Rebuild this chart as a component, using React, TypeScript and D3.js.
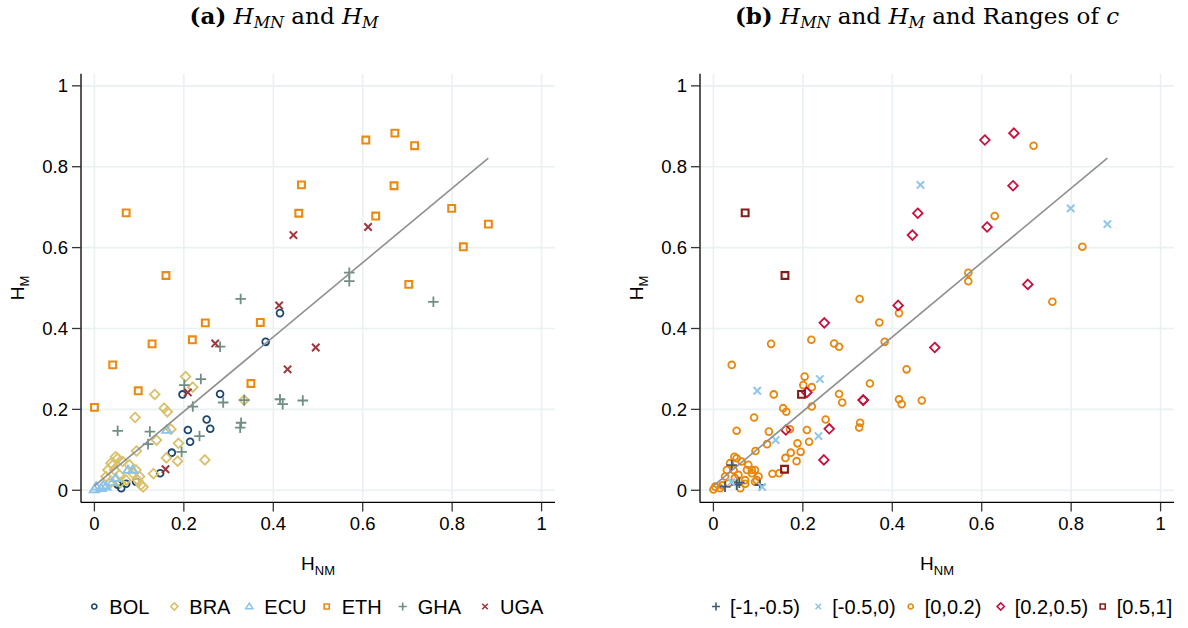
import React from "react";
import * as d3 from "d3";

// categories
const countries = ["BOL", "BRA", "ECU", "ETH", "GHA", "UGA"];
const cRanges = ["[-1,-0.5)", "[-0.5,0)", "[0,0.2)", "[0.2,0.5)", "[0.5,1]"];
const tickValues = [0, 0.2, 0.4, 0.6, 0.8, 1];
const tickLabels = ["0", "0.2", "0.4", "0.6", "0.8", "1"];

// each point: [H_NM, H_M, index into cRanges] (-1 = c missing)
const bol = [
  [0.415, 0.438, 2], [0.383, 0.367, 2], [0.197, 0.237, 4], [0.281, 0.238, 2],
  [0.251, 0.175, 2], [0.259, 0.152, 3], [0.209, 0.149, 2], [0.214, 0.12, 2],
  [0.173, 0.093, 2], [0.147, 0.042, 2], [0.052, 0.014, 0], [0.071, 0.016, 2],
  [0.06, 0.005, 2], [0.093, 0.021, 2],
];
const bra = [
  [0.204, 0.281, 2], [0.22, 0.255, 2], [0.335, 0.223, 3], [0.135, 0.237, 2],
  [0.156, 0.203, 2], [0.163, 0.194, 2], [0.091, 0.18, 2], [0.171, 0.151, 2],
  [0.139, 0.124, 1], [0.188, 0.116, 2], [0.094, 0.097, 2], [0.161, 0.08, 2],
  [0.186, 0.072, 2], [0.247, 0.075, 3], [0.132, 0.041, 2],
  [0.047, 0.083, 2], [0.037, 0.067, 2], [0.063, 0.071, 2], [0.045, 0.05, 2],
  [0.056, 0.038, 2], [0.078, 0.063, 2], [0.086, 0.042, 2], [0.071, 0.025, 2],
  [0.097, 0.025, 2], [0.104, 0.013, 0], [0.109, 0.008, 1], [0.026, 0.034, 2],
  [0.034, 0.017, 2], [0.058, 0.019, 0], [0.041, 0.062, 0], [0.052, 0.079, 2],
  [0.03, 0.05, 2], [0.093, 0.05, 2], [0.101, 0.034, 2],
];
const ecu = [
  [0.162, 0.149, 3], [0.075, 0.05, 2], [0.086, 0.05, 2], [0.004, 0.009, 2],
  [0.015, 0.005, 2], [0.026, 0.009, 0], [0.0, 0.002, 2], [0.04, 0.02, 1],
  [0.02, 0.012, 2], [0.048, 0.03, 2],
];
const eth = [
  [0.0, 0.205, -1], [0.041, 0.31, 2], [0.098, 0.246, 1], [0.129, 0.362, 2],
  [0.16, 0.531, 4], [0.071, 0.686, 4], [0.219, 0.372, 2], [0.248, 0.414, 3],
  [0.35, 0.264, 2], [0.371, 0.415, 2], [0.457, 0.685, 3], [0.463, 0.755, 1],
  [0.607, 0.866, 3], [0.672, 0.883, 3], [0.629, 0.678, 2], [0.67, 0.753, 3],
  [0.716, 0.852, 2], [0.799, 0.697, 1], [0.825, 0.602, 2], [0.881, 0.658, 1],
  [0.703, 0.509, 3],
];
const gha = [
  [0.327, 0.473, 2], [0.281, 0.355, 2], [0.57, 0.538, 2], [0.57, 0.517, 2],
  [0.758, 0.466, 2], [0.415, 0.225, 2], [0.421, 0.213, 2], [0.466, 0.222, 2],
  [0.238, 0.275, 1], [0.201, 0.26, 2], [0.288, 0.217, 2], [0.335, 0.223, 3],
  [0.22, 0.207, 2], [0.328, 0.167, 2], [0.326, 0.155, 2], [0.052, 0.147, 2],
  [0.124, 0.145, 2], [0.235, 0.134, 1], [0.12, 0.114, 2], [0.195, 0.095, 2],
];
const uga = [
  [0.445, 0.631, 3], [0.612, 0.651, 3], [0.413, 0.457, 3], [0.27, 0.363, 2],
  [0.495, 0.353, 3], [0.432, 0.299, 2], [0.209, 0.242, 3], [0.159, 0.052, 4],
];
const countryPoints = [bol, bra, ecu, eth, gha, uga];

// linear fit H_M on H_NM
const fitIntercept = 0.011;
const fitSlope = 0.92;

const countryColors = ["#1a476f", "#d9c06a", "#8cc3ea", "#ea8a12", "#6f8f84", "#a1363c"];
const countryShapes = ["circle", "diamond", "triangle", "square", "plus", "x"];
const rangeColors = ["#3f5a76", "#8fc6ea", "#e8870e", "#c8103e", "#8b1a1a"];
const rangeShapes = ["plus", "x", "circle", "diamond", "square"];
const rangeDrawOrder = [2, 0, 1, 3, 4];

const W = 1188;
const H = 628;
const plotTop = 73.7;
const plotBottom = 502.4;
const plotWidth = 474;
const panelLefts = [81, 700];
const domain = [-0.03, 1.03];

const sansFont = "'Liberation Sans', Arial, Helvetica, sans-serif";
const serifFont = "'DejaVu Serif', 'Liberation Serif', serif";

function markerPath(shape: string, s = 1) {
  const p = d3.path();
  if (shape === "circle") {
    p.arc(0, 0, 3.4 * s, 0, 2 * Math.PI);
  } else if (shape === "square") {
    const h = 3.4 * s;
    p.rect(-h, -h, 2 * h, 2 * h);
  } else if (shape === "diamond") {
    const h = 4.8 * s;
    p.moveTo(0, -h); p.lineTo(h, 0); p.lineTo(0, h); p.lineTo(-h, 0); p.closePath();
  } else if (shape === "triangle") {
    const h = 4.5 * s;
    p.moveTo(0, -h); p.lineTo(h * 1.05, h * 0.65); p.lineTo(-h * 1.05, h * 0.65); p.closePath();
  } else if (shape === "plus") {
    const h = 5.3 * s;
    p.moveTo(-h, 0); p.lineTo(h, 0); p.moveTo(0, -h); p.lineTo(0, h);
  } else {
    const h = 3.7 * s;
    p.moveTo(-h, -h); p.lineTo(h, h); p.moveTo(-h, h); p.lineTo(h, -h);
  }
  return p.toString();
}

function strokeW(shape: string) {
  if (shape === "square") return 2.1;
  if (shape === "x") return 2;
  return 1.8;
}

const Panel = ({ left, children }) => {
  const x = d3.scaleLinear().domain(domain).range([left, left + plotWidth]);
  const y = d3.scaleLinear().domain(domain).range([plotBottom, plotTop]);
  const xs = countryPoints.flat().map((d) => d[0]);
  const x0 = d3.min(xs);
  const x1 = d3.max(xs);
  return (
    <g>
      {tickValues.map((t) => (
        <g key={"g" + t}>
          <line x1={x(t)} x2={x(t)} y1={plotTop} y2={plotBottom} stroke="#e9f1f3" strokeWidth={1.6} />
          <line x1={left} x2={left + plotWidth} y1={y(t)} y2={y(t)} stroke="#e9f1f3" strokeWidth={1.6} />
        </g>
      ))}
      {children(x, y)}
      <line x1={x(x0)} y1={y(fitIntercept + fitSlope * x0)} x2={x(x1)} y2={y(fitIntercept + fitSlope * x1)}
        stroke="#8f8f8f" strokeWidth={1.6} />
      <line x1={left} x2={left} y1={plotTop} y2={plotBottom} stroke="#000" strokeWidth={1.3} />
      <line x1={left} x2={left + plotWidth} y1={plotBottom} y2={plotBottom} stroke="#000" strokeWidth={1.3} />
      {tickValues.map((t, i) => (
        <g key={"t" + t} fontFamily={sansFont} fontSize={18.5} fill="#000">
          <line x1={left - 9} x2={left} y1={y(t)} y2={y(t)} stroke="#333" strokeWidth={1.3} />
          <text x={left - 13} y={y(t)} dy="0.36em" textAnchor="end">{tickLabels[i]}</text>
          <line x1={x(t)} x2={x(t)} y1={plotBottom} y2={plotBottom + 9} stroke="#333" strokeWidth={1.3} />
          <text x={x(t)} y={plotBottom + 28} textAnchor="middle">{tickLabels[i]}</text>
        </g>
      ))}
      <text x={left + plotWidth / 2} y={570} textAnchor="middle" fontFamily={sansFont} fontSize={19}>
        H<tspan fontSize={13} dy={5}>NM</tspan>
      </text>
      <text transform={`translate(${left - 57},288) rotate(-90)`} textAnchor="middle" fontFamily={sansFont} fontSize={19}>
        H<tspan fontSize={13} dy={5}>M</tspan>
      </text>
    </g>
  );
};

const legendAX = [94.3, 174.3, 249.3, 326.7, 402.7, 485];
const legendBX = [716, 818.3, 910.7, 1000.7, 1102.7];
const legendY = 606.5;

const App = () => {
  return (
    <svg width={W} height={H} style={{ position: "absolute", left: 0, top: 0, background: "#fff" }}>
      <rect width={W} height={H} fill="#fff" />
      <text x={284} y={24} textAnchor="middle" fontFamily={serifFont} fontSize={23}>
        <tspan fontWeight="bold">(a)</tspan>{" "}
        <tspan fontStyle="italic">H</tspan><tspan fontStyle="italic" fontSize={16} dy={4}>MN</tspan>
        <tspan dy={-4}> and </tspan>
        <tspan fontStyle="italic">H</tspan><tspan fontStyle="italic" fontSize={16} dy={4}>M</tspan>
      </text>
      <text x={927} y={24} textAnchor="middle" fontFamily={serifFont} fontSize={23}>
        <tspan fontWeight="bold">(b)</tspan>{" "}
        <tspan fontStyle="italic">H</tspan><tspan fontStyle="italic" fontSize={16} dy={4}>MN</tspan>
        <tspan dy={-4}> and </tspan>
        <tspan fontStyle="italic">H</tspan><tspan fontStyle="italic" fontSize={16} dy={4}>M</tspan>
        <tspan dy={-4}> and Ranges of </tspan>
        <tspan fontStyle="italic">c</tspan>
      </text>

      <Panel left={panelLefts[0]}>
        {(x, y) =>
          countryPoints.map((pts, ci) => (
            <g key={countries[ci]}>
              {pts.map((d, i) => (
                <path key={i} d={markerPath(countryShapes[ci])} transform={`translate(${x(d[0])},${y(d[1])})`}
                  fill="none" stroke={countryColors[ci]} strokeWidth={strokeW(countryShapes[ci])} />
              ))}
            </g>
          ))
        }
      </Panel>

      <Panel left={panelLefts[1]}>
        {(x, y) =>
          rangeDrawOrder.map((ri) => (
            <g key={cRanges[ri]}>
              {countryPoints.flat().filter((d) => d[2] === ri).map((d, i) => (
                <path key={i} d={markerPath(rangeShapes[ri])} transform={`translate(${x(d[0])},${y(d[1])})`}
                  fill="none" stroke={rangeColors[ri]} strokeWidth={strokeW(rangeShapes[ri])} />
              ))}
            </g>
          ))
        }
      </Panel>

      <g fontFamily={sansFont} fontSize={20}>
        {countries.map((c, i) => (
          <g key={c}>
            <path d={markerPath(countryShapes[i], 0.75)} transform={`translate(${legendAX[i]},${legendY})`}
              fill="none" stroke={countryColors[i]} strokeWidth={1.6} />
            <text x={legendAX[i] + 15} y={legendY + 7}>{c}</text>
          </g>
        ))}
        {cRanges.map((c, i) => (
          <g key={c}>
            <path d={markerPath(rangeShapes[i], 0.75)} transform={`translate(${legendBX[i]},${legendY})`}
              fill="none" stroke={rangeColors[i]} strokeWidth={1.6} />
            <text x={legendBX[i] + 14} y={legendY + 7}>{c}</text>
          </g>
        ))}
      </g>
    </svg>
  );
};

export default App;
